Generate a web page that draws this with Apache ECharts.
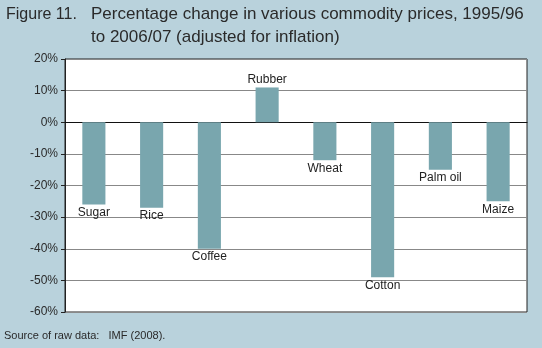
<!DOCTYPE html>
<html><head><meta charset="utf-8">
<script src="https://cdn.jsdelivr.net/npm/echarts@6/dist/echarts.min.js"></script>
<style>html,body{margin:0;padding:0;background:#b9d2dc;}#c{width:542px;height:348px;}</style>
</head><body><div id="c"></div>
<script>
const categories = ['Sugar','Rice','Coffee','Rubber','Wheat','Cotton','Palm oil','Maize'];
const values = [-26, -27, -40, 11, -12, -49, -15, -25];
const yTicks = {min:-60, max:20, interval:10};

const chart = echarts.init(document.getElementById('c'));
chart.setOption({
  backgroundColor:'#b9d2dc',
  animation:false,
  title:[
    {text:'Figure 11.', left:1, top:-2, textStyle:{fontFamily:'Liberation Sans, Arial', fontSize:16, fontWeight:'normal', color:'#2a2a2a', lineHeight:23}},
    {text:'Percentage change in various commodity prices, 1995/96\nto 2006/07 (adjusted for inflation)', left:86, top:-2, textStyle:{fontFamily:'Liberation Sans, Arial', fontSize:17, fontWeight:'normal', color:'#2a2a2a', lineHeight:23}},
    {text:'Source of raw data:   IMF (2008).', left:-1, top:325, textStyle:{fontFamily:'Liberation Sans, Arial', fontSize:11, fontWeight:'normal', color:'#2a2a2a'}}
  ],
  grid:{left:65, right:15, top:59, bottom:36, show:true, backgroundColor:'#ffffff', borderColor:'#222', borderWidth:1},
  xAxis:{type:'category', data:categories, axisLine:{onZero:true, lineStyle:{color:'#111', width:1}}, axisTick:{show:false}, axisLabel:{show:false}},
  yAxis:{type:'value', min:yTicks.min, max:yTicks.max, interval:yTicks.interval,
    axisLine:{show:true, lineStyle:{color:'#222'}},
    axisTick:{show:true, length:4, lineStyle:{color:'#222'}},
    axisLabel:{formatter:'{value}%', color:'#2a2a2a', fontSize:12, fontFamily:'Liberation Sans, Arial', margin:7},
    splitLine:{lineStyle:{color:'#888', width:1}}},
  series:[{type:'bar', barWidth:'40%',
    itemStyle:{color:'#79a6ae'},
    data: values.map((v,i)=>({value:v, label:{position: v<0?'bottom':'top'}})),
    label:{show:true, distance:2, formatter:p=>categories[p.dataIndex], color:'#222', fontSize:12, fontFamily:'Liberation Sans, Arial'}
  }]
});
</script></body></html>
